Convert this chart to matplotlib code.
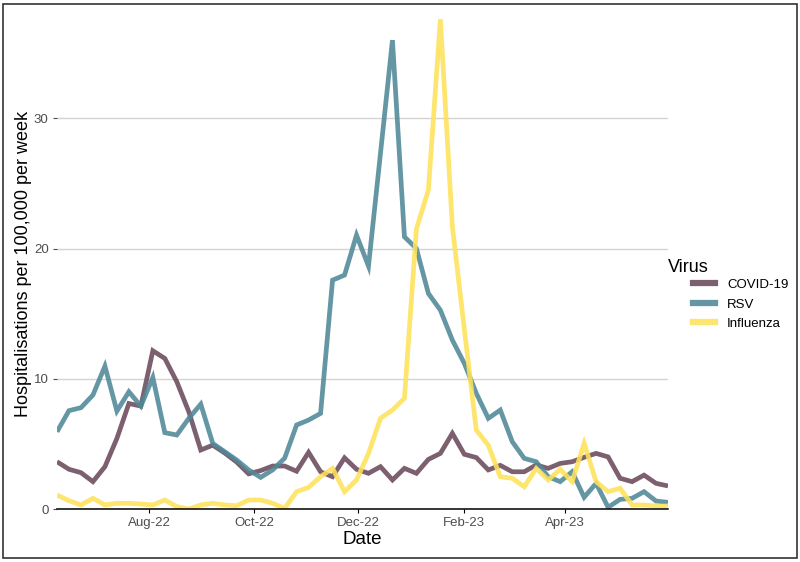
import numpy as np
import pandas as pd
import matplotlib
matplotlib.use("Agg")
import matplotlib.pyplot as plt
import matplotlib.dates as mdates
from matplotlib.patches import Rectangle
from matplotlib.lines import Line2D


# ============================================================
# DATA (weekly hospitalisations per 100,000)
# ============================================================

start_date = "2022-06-08"
n_weeks = 52

covid = [3.63, 3.05, 2.79, 2.10, 3.25, 5.42, 8.10, 7.90, 12.15, 11.56,
         9.77, 7.47, 4.53, 4.90, 4.30, 3.60, 2.70, 2.95, 3.30, 3.30,
         2.90, 4.35, 2.86, 2.48, 3.93, 3.05, 2.74, 3.25, 2.23, 3.12,
         2.74, 3.81, 4.27, 5.81, 4.20, 3.95, 3.00, 3.35, 2.86, 2.86,
         3.38, 3.12, 3.50, 3.63, 3.97, 4.27, 4.00, 2.36, 2.10, 2.60,
         1.97, 1.77]

rsv = [5.93, 7.55, 7.78, 8.75, 10.97, 7.52, 9.00, 7.90, 10.10, 5.86,
       5.68, 6.96, 8.05, 5.04, 4.40, 3.76, 3.00, 2.43, 3.00, 3.90,
       6.45, 6.83, 7.34, 17.57, 17.96, 21.03, 18.65, 27.30, 36.00, 20.90,
       20.00, 16.55, 15.27, 12.97, 11.18, 8.88, 6.96, 7.60, 5.17, 3.89,
       3.63, 2.48, 2.10, 2.86, 0.90, 1.97, 0.13, 0.74, 0.82, 1.33,
       0.61, 0.51]

influenza = [1.07, 0.64, 0.31, 0.82, 0.31, 0.44, 0.44, 0.38, 0.31, 0.69,
             0.18, 0.00, 0.31, 0.44, 0.31, 0.25, 0.69, 0.69, 0.44, 0.05,
             1.33, 1.66, 2.48, 3.12, 1.33, 2.23, 4.27, 6.96, 7.60, 8.50,
             21.50, 24.50, 37.60, 21.70, 13.80, 6.06, 4.90, 2.48, 2.36, 1.71,
             3.12, 2.23, 3.05, 2.10, 5.04, 2.10, 1.33, 1.59, 0.31, 0.31,
             0.23, 0.23]

virus_names = ["COVID-19", "RSV", "Influenza"]
virus_colors = ["#6b4a5c", "#4f8898", "#fde25a"]


# ============================================================
# PLOT
# ============================================================

plt.rcParams["font.family"] = ["Liberation Sans", "DejaVu Sans"]

dates = pd.date_range(start_date, periods=n_weeks, freq="7D")
series = [covid, rsv, influenza]

fig = plt.figure(figsize=(8, 5.62), dpi=100)
ax = fig.add_axes([57 / 800, 1 - 509 / 562, (668 - 57) / 800, (509 - 18) / 562])

for values, color in zip(series, virus_colors):
    ax.plot(dates, values, color=color, lw=3.4, alpha=0.88,
            solid_joinstyle="miter", solid_capstyle="butt")

ax.set_xlim(dates[0], dates[-1])
ax.set_ylim(0, max(influenza) + 0.1)
ax.set_yticks([0, 10, 20, 30])
ax.xaxis.set_major_locator(mdates.MonthLocator(bymonth=[2, 4, 8, 10, 12]))
ax.xaxis.set_major_formatter(mdates.DateFormatter("%b-%y"))

ax.grid(axis="y", color="#d6d2cf", lw=1.0)
ax.set_axisbelow(True)
for side in ["top", "right", "left"]:
    ax.spines[side].set_visible(False)
ax.spines["bottom"].set_color("black")
ax.spines["bottom"].set_linewidth(1.1)
ax.tick_params(axis="both", colors="#4d4d4d", labelsize=9.5, length=3, width=0.8, pad=3)
ax.tick_params(axis="x", colors="black", labelcolor="#4d4d4d")

ax.set_xlabel("Date", fontsize=13.5, va="center")
ax.set_ylabel("Hospitalisations per 100,000 per week", fontsize=13, va="center")
ax.xaxis.set_label_coords(0.5, (509 - 540) / 491)
ax.yaxis.set_label_coords((24 - 57) / 611, 0.5)

# legend: title placed on its own, keys indented as in the original
fig.text(668 / 800, 1 - 268 / 562, "Virus", fontsize=13, va="center", ha="left")
handles = [Line2D([0], [0], color=c, lw=4.5, alpha=0.88) for c in virus_colors]
leg = fig.legend(handles, virus_names, loc="upper left",
                 bbox_to_anchor=(681 / 800, 1 - 267 / 562), frameon=False,
                 fontsize=9.5, handlelength=1.7,
                 handletextpad=0.9, labelspacing=0.55)

fig.patches.append(Rectangle((3 / 800, 4 / 562), 794 / 800, 554 / 562,
                             transform=fig.transFigure, fill=False,
                             edgecolor="#333333", lw=1.2))

fig.savefig("out.png", dpi=100)
